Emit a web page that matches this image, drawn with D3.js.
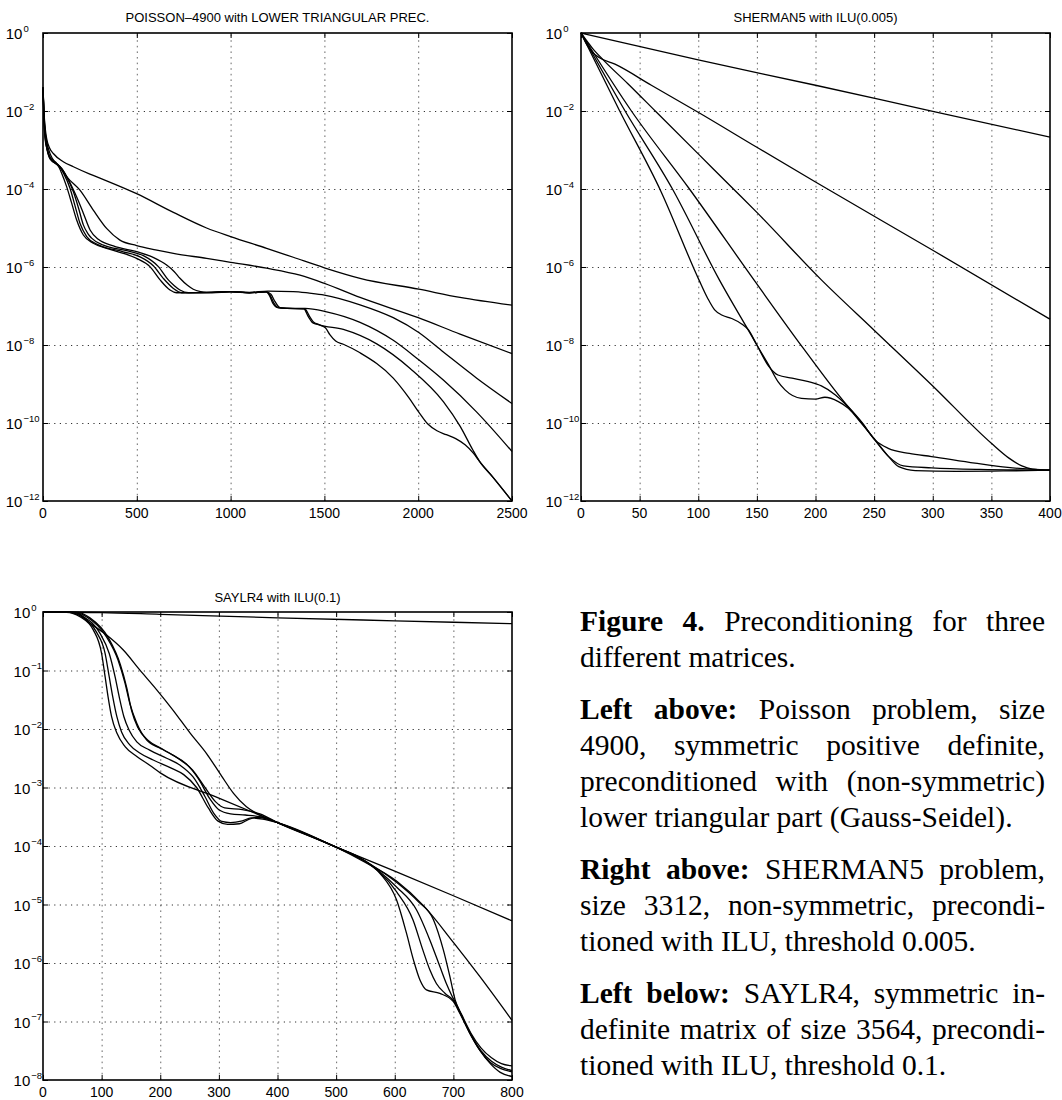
<!DOCTYPE html>
<html><head><meta charset="utf-8">
<script src="https://cdn.jsdelivr.net/npm/d3@7"></script>
<style>
body{margin:0;background:#fff;}
svg{display:block;}
</style></head><body>
<svg id="fig" width="1062" height="1100"></svg>
<script>
// ---------------- DATA (x = iteration, value = log10 of residual) ----------------
const poissonTitle = "POISSON\u20134900 with LOWER TRIANGULAR PREC.";
const poissonXTicks = [0, 500, 1000, 1500, 2000, 2500];
const poissonYExps = [0, -2, -4, -6, -8, -10, -12];
const poissonA = [[0,-1.4],[5,-2.0],[12,-2.45],[20,-2.72],[35,-2.95],[55,-3.09],[108,-3.30],[162,-3.43],[250,-3.62],[339,-3.79],[499,-4.12],[695,-4.6],[872,-5.0],[1000,-5.22],[1192,-5.52],[1334,-5.75],[1500,-6.02],[1690,-6.29],[2003,-6.57],[2223,-6.78],[2500,-6.98]];
const poissonB = [[0,-1.4],[5,-2.05],[12,-2.55],[20,-2.8],[40,-3.12],[70,-3.35],[100,-3.5],[126,-3.68],[197,-4.03],[268,-4.54],[339,-5.01],[410,-5.31],[499,-5.45],[600,-5.56],[695,-5.65],[872,-5.78],[1000,-5.88],[1192,-6.03],[1370,-6.21],[1500,-6.42],[1690,-6.78],[2000,-7.3],[2223,-7.72],[2500,-8.22]];
const poissonC = [[0,-1.4],[5,-2.1],[12,-2.6],[20,-2.88],[40,-3.22],[100,-3.47],[140,-3.8],[179,-4.2],[215,-4.62],[251,-5.05],[295,-5.29],[375,-5.46],[517,-5.63],[590,-5.76],[659,-5.95],[700,-6.12],[730,-6.29],[770,-6.47],[801,-6.57],[840,-6.63],[872,-6.65],[1000,-6.63],[1100,-6.65],[1200,-6.62],[1334,-6.63],[1420,-6.67],[1500,-6.72],[1690,-6.97],[1867,-7.3],[2003,-7.68],[2134,-8.18],[2312,-8.85],[2500,-9.5]];
const poissonD = [[0,-1.4],[5,-2.15],[12,-2.65],[20,-2.92],[40,-3.24],[91,-3.43],[125,-3.68],[162,-4.07],[190,-4.5],[215,-4.92],[240,-5.15],[259,-5.26],[322,-5.44],[446,-5.58],[535,-5.71],[615,-5.99],[668,-6.33],[700,-6.48],[730,-6.59],[775,-6.66],[900,-6.66],[1000,-6.64],[1100,-6.66],[1190,-6.64],[1215,-6.7],[1237,-6.89],[1263,-7.04],[1330,-7.06],[1397,-7.06],[1512,-7.15],[1690,-7.42],[1867,-7.88],[2003,-8.38],[2134,-8.9],[2312,-9.72],[2500,-10.73]];
const poissonE = [[0,-1.4],[5,-2.2],[12,-2.7],[20,-2.95],[40,-3.24],[82,-3.38],[110,-3.6],[144,-3.98],[170,-4.42],[197,-4.88],[233,-5.22],[286,-5.41],[428,-5.61],[517,-5.74],[588,-5.97],[641,-6.29],[695,-6.55],[739,-6.66],[900,-6.65],[1000,-6.63],[1100,-6.66],[1190,-6.64],[1210,-6.72],[1230,-6.92],[1255,-7.04],[1300,-7.06],[1395,-7.07],[1420,-7.26],[1440,-7.4],[1468,-7.47],[1601,-7.6],[1779,-7.97],[1957,-8.6],[2134,-9.45],[2223,-10.08],[2290,-10.68],[2325,-10.97],[2400,-11.4],[2500,-12]];
const poissonF = [[0,-1.4],[5,-2.25],[12,-2.75],[20,-2.95],[40,-3.2],[73,-3.34],[100,-3.6],[126,-3.94],[152,-4.35],[179,-4.79],[215,-5.18],[268,-5.39],[339,-5.52],[428,-5.65],[499,-5.78],[570,-5.99],[624,-6.33],[677,-6.59],[712,-6.66],[900,-6.65],[1000,-6.63],[1100,-6.66],[1190,-6.64],[1208,-6.74],[1225,-6.93],[1250,-7.04],[1300,-7.06],[1390,-7.07],[1415,-7.28],[1435,-7.42],[1468,-7.48],[1505,-7.56],[1530,-7.74],[1560,-7.9],[1601,-7.98],[1690,-8.2],[1867,-8.85],[1950,-9.35],[2003,-9.72],[2050,-10.02],[2100,-10.2],[2150,-10.3],[2200,-10.4],[2250,-10.56],[2295,-10.78],[2325,-10.97],[2400,-11.4],[2500,-12]];

const shermanTitle = "SHERMAN5 with ILU(0.005)";
const shermanXTicks = [0, 50, 100, 150, 200, 250, 300, 350, 400];
const shermanYExps = [0, -2, -4, -6, -8, -10, -12];
const shermanR1 = [[0,0],[100,-0.69],[200,-1.34],[300,-2.01],[400,-2.67]];
const shermanR2 = [[0,0],[5,-0.3],[10,-0.5],[15,-0.62],[29,-0.8],[60,-1.34],[101,-2.05],[150,-2.93],[200,-3.82],[300,-5.57],[400,-7.34]];
const shermanR3 = [[0,0],[10,-0.4],[20,-0.72],[40,-1.3],[64,-2.02],[100,-3.1],[130,-4.0],[150,-4.6],[205,-6.33],[250,-7.62],[300,-9.05],[350,-10.52],[365,-10.9],[376,-11.1],[385,-11.18],[400,-11.21]];
const shermanR4 = [[0,0],[43,-2.0],[92.5,-4.0],[147.5,-6.33],[190,-8.1],[225,-9.48],[240,-10.0],[251,-10.44],[262,-10.65],[280,-10.78],[299,-10.86],[336,-11.03],[364,-11.14],[400,-11.21]];
const shermanR5 = [[0,0],[37.6,-2.0],[78,-4.0],[118,-6.33],[150,-8.0],[160,-8.54],[168,-8.77],[180,-8.85],[194,-8.94],[205,-9.05],[217,-9.28],[225,-9.5],[240,-10.02],[251,-10.45],[262,-10.85],[275,-11.1],[299,-11.15],[340,-11.19],[400,-11.21]];
const shermanR6 = [[0,0],[33,-2.0],[68,-4.05],[100.6,-6.33],[108,-6.8],[114,-7.1],[120,-7.23],[128.5,-7.32],[137,-7.46],[143,-7.62],[150,-8.0],[160,-8.51],[168,-8.94],[174,-9.15],[188,-9.37],[200,-9.39],[208,-9.34],[219.5,-9.45],[228,-9.62],[239,-10.0],[251,-10.44],[262,-10.85],[271,-11.12],[285,-11.22],[320,-11.24],[360,-11.23],[400,-11.21]];

const saylrTitle = "SAYLR4 with ILU(0.1)";
const saylrXTicks = [0, 100, 200, 300, 400, 500, 600, 700, 800];
const saylrYExps = [0, -1, -2, -3, -4, -5, -6, -7, -8];
const saylrS1 = [[0,0],[100,-0.01],[200,-0.04],[400,-0.1],[600,-0.15],[800,-0.2]];
const saylrS2 = [[0,0],[40,-0.005],[63,-0.08],[86,-0.31],[100,-0.71],[106,-1.11],[111,-1.45],[117,-1.79],[126,-2.07],[140,-2.30],[160,-2.47],[182,-2.62],[200,-2.75],[300,-3.18],[400,-3.6],[500,-4.02],[600,-4.43],[700,-4.85],[800,-5.28]];
const saylrSb = [[0,0],[40,-0.002],[57,-0.01],[80,-0.19],[108,-0.39],[137,-0.65],[165,-0.99],[194,-1.33],[222,-1.68],[251,-2.07],[279,-2.42],[305,-2.81],[325,-3.10],[347,-3.33],[370,-3.47],[400,-3.6],[500,-4.02],[546,-4.26],[603,-4.6],[649,-5.02],[701,-5.66],[745,-6.23],[800,-6.98]];
const saylrHa = [[0,0],[45,-0.005],[66,-0.08],[91,-0.34],[106,-0.71],[113,-1.11],[119,-1.45],[126,-1.79],[134,-2.05],[148,-2.27],[165,-2.41],[188,-2.53],[217,-2.66],[240,-2.78],[262,-3.0],[282,-3.35],[298,-3.57],[315,-3.63],[335,-3.62],[350,-3.55],[365,-3.51],[380,-3.53],[400,-3.6],[500,-4.02],[540,-4.2],[575,-4.47],[603,-4.92],[620,-5.49],[632,-5.95],[643,-6.29],[654,-6.46],[677,-6.52],[700,-6.66],[711,-6.86],[728,-7.2],[745,-7.49],[763,-7.72],[780,-7.87],[800,-7.94]];
const saylrHb = [[0,0],[50,-0.005],[69,-0.08],[97,-0.36],[113,-0.71],[123,-1.11],[130,-1.45],[138,-1.79],[147,-2.02],[160,-2.22],[182,-2.36],[211,-2.5],[234,-2.62],[256,-2.82],[276,-3.15],[292,-3.45],[305,-3.58],[320,-3.6],[340,-3.57],[355,-3.52],[375,-3.54],[400,-3.6],[500,-4.02],[545,-4.23],[603,-4.78],[631,-5.26],[648,-5.78],[660,-6.12],[671,-6.35],[686,-6.52],[700,-6.64],[711,-6.84],[728,-7.2],[745,-7.49],[763,-7.7],[780,-7.8],[800,-7.86]];
const saylrHc = [[0,0],[55,-0.005],[74,-0.08],[108,-0.42],[128,-0.82],[140,-1.22],[148,-1.56],[160,-1.9],[177,-2.19],[200,-2.33],[222,-2.45],[245,-2.6],[265,-2.85],[285,-3.2],[300,-3.38],[320,-3.45],[345,-3.47],[370,-3.5],[400,-3.6],[500,-4.02],[550,-4.26],[603,-4.70],[637,-5.09],[660,-5.61],[677,-6.06],[688,-6.35],[697,-6.55],[705,-6.7],[715,-6.92],[730,-7.22],[747,-7.5],[765,-7.68],[782,-7.78],[800,-7.84]];
const saylrHd = [[0,0],[60,-0.005],[80,-0.1],[112,-0.45],[132,-0.9],[143,-1.3],[151,-1.68],[162,-1.98],[180,-2.2],[205,-2.35],[230,-2.5],[255,-2.7],[275,-2.98],[295,-3.25],[310,-3.35],[340,-3.38],[370,-3.45],[400,-3.6],[500,-4.02],[560,-4.32],[603,-4.62],[640,-4.95],[666,-5.26],[683,-5.78],[694,-6.23],[703,-6.63],[715,-6.9],[730,-7.2],[747,-7.45],[765,-7.62],[782,-7.72],[800,-7.76]];

const captionParas = [
  [ [["b","Figure 4."],["r"," Preconditioning for three"]],
    [["r","different matrices."]] ],
  [ [["b","Left above:"],["r"," Poisson problem, size"]],
    [["r","4900, symmetric positive definite,"]],
    [["r","preconditioned with (non-symmetric)"]],
    [["r","lower triangular part (Gauss-Seidel)."]] ],
  [ [["b","Right above:"],["r"," SHERMAN5 problem,"]],
    [["r","size 3312, non-symmetric, precondi-"]],
    [["r","tioned with ILU, threshold 0.005."]] ],
  [ [["b","Left below:"],["r"," SAYLR4, symmetric in-"]],
    [["r","definite matrix of size 3564, precondi-"]],
    [["r","tioned with ILU, threshold 0.1."]] ]
];

// ---------------- LAYOUT ----------------
const SANS = '"Liberation Sans", Arial, Helvetica, sans-serif';
const SERIF = '"Liberation Serif", "Times New Roman", serif';
const svg = d3.select('#fig');

const panels = [
  {title: poissonTitle, xMax: 2500, xTicks: poissonXTicks, yMinExp: -12, yExps: poissonYExps,
   series: [poissonA, poissonB, poissonC, poissonD, poissonE, poissonF],
   left: 43, right: 512, top: 33, bottom: 501, labelX: 5.7, titleY: 22},
  {title: shermanTitle, xMax: 400, xTicks: shermanXTicks, yMinExp: -12, yExps: shermanYExps,
   series: [shermanR1, shermanR2, shermanR3, shermanR4, shermanR5, shermanR6],
   left: 581, right: 1050, top: 33, bottom: 501, labelX: 545.5, titleY: 22},
  {title: saylrTitle, xMax: 800, xTicks: saylrXTicks, yMinExp: -8, yExps: saylrYExps,
   series: [saylrS1, saylrS2, saylrSb, saylrHa, saylrHb, saylrHc, saylrHd],
   left: 43, right: 512, top: 612, bottom: 1080, labelX: 13.6, titleY: 601.5}
];

function styleAxis(sel, stroke, dash) {
  sel.select('.domain').remove();
  sel.selectAll('text').remove();
  sel.selectAll('line').attr('stroke', stroke).attr('stroke-width', 1);
  if (dash) sel.selectAll('line').attr('stroke-dasharray', dash);
}

function drawPanel(p) {
  const W = p.right - p.left, H = p.bottom - p.top;
  const x = d3.scaleLinear().domain([0, p.xMax]).range([p.left, p.right]);
  const y = d3.scaleLog().domain([Math.pow(10, p.yMinExp), 1]).range([p.bottom, p.top]);
  const g = svg.append('g');

  // grid
  const innerX = p.xTicks.filter(v => v > 0 && v < p.xMax);
  const innerY = p.yExps.filter(e => e < 0 && e > p.yMinExp).map(e => Math.pow(10, e));
  g.append('g').attr('transform', `translate(0,${p.bottom})`)
    .call(d3.axisBottom(x).tickValues(innerX).tickSize(-H).tickSizeOuter(0).tickFormat(''))
    .call(s => styleAxis(s, '#6a6a6a', '1.6,4'));
  g.append('g').attr('transform', `translate(${p.left},0)`)
    .call(d3.axisLeft(y).tickValues(innerY).tickSize(-W).tickSizeOuter(0).tickFormat(''))
    .call(s => styleAxis(s, '#333', '1.2,4.4'));

  // inward tick marks on all four sides
  const allY = p.yExps.map(e => Math.pow(10, e));
  g.append('g').attr('transform', `translate(0,${p.bottom})`)
    .call(d3.axisBottom(x).tickValues(p.xTicks).tickSize(-5).tickSizeOuter(0).tickFormat(''))
    .call(s => styleAxis(s, '#000'));
  g.append('g').attr('transform', `translate(0,${p.top})`)
    .call(d3.axisTop(x).tickValues(p.xTicks).tickSize(-5).tickSizeOuter(0).tickFormat(''))
    .call(s => styleAxis(s, '#000'));
  g.append('g').attr('transform', `translate(${p.left},0)`)
    .call(d3.axisLeft(y).tickValues(allY).tickSize(-5).tickSizeOuter(0).tickFormat(''))
    .call(s => styleAxis(s, '#000'));
  g.append('g').attr('transform', `translate(${p.right},0)`)
    .call(d3.axisRight(y).tickValues(allY).tickSize(-5).tickSizeOuter(0).tickFormat(''))
    .call(s => styleAxis(s, '#000'));

  // series
  const line = d3.line()
    .x(d => x(d[0]))
    .y(d => y(Math.pow(10, d[1])))
    .curve(d3.curveMonotoneX);
  g.append('g').selectAll('path').data(p.series).join('path')
    .attr('d', line)
    .attr('fill', 'none')
    .attr('stroke', '#000')
    .attr('stroke-width', 1.3)
    .attr('stroke-linejoin', 'round');

  // frame
  g.append('rect').attr('x', p.left).attr('y', p.top).attr('width', W).attr('height', H)
    .attr('fill', 'none').attr('stroke', '#000').attr('stroke-width', 1.6);

  // x labels
  g.append('g').selectAll('text').data(p.xTicks).join('text')
    .attr('x', d => x(d)).attr('y', p.bottom + 17)
    .attr('text-anchor', 'middle')
    .attr('font-family', SANS).attr('font-size', 14).attr('fill', '#000')
    .text(d => d);

  // y labels: 10^e
  const yl = g.append('g').selectAll('text').data(p.yExps).join('text')
    .attr('x', p.labelX).attr('y', d => y(Math.pow(10, d)) + 6)
    .attr('font-family', SANS).attr('font-size', 15).attr('fill', '#000');
  yl.append('tspan').text('10');
  yl.append('tspan').attr('dy', -7.5).attr('dx', 1).attr('font-size', 9.5)
    .text(d => d === 0 ? '0' : '\u2212' + (-d));

  // title
  g.append('text').attr('x', (p.left + p.right) / 2).attr('y', p.titleY)
    .attr('text-anchor', 'middle').attr('font-family', SANS).attr('font-size', 13)
    .attr('fill', '#000').text(p.title);
}

panels.forEach(drawPanel);

// ---------------- CAPTION ----------------
const capLeft = 580, capRight = 1045, capTop = 631, lineStep = 36, paraExtra = 16;
let gi = 0;
const capG = svg.append('g');
captionParas.forEach((para, pi) => {
  para.forEach((segs, li) => {
    const t = capG.append('text')
      .attr('x', capLeft).attr('y', capTop + lineStep * gi + paraExtra * pi)
      .attr('font-family', SERIF).attr('font-size', 29.5).attr('fill', '#000')
      .style('white-space', 'pre');
    segs.forEach(s => {
      t.append('tspan').attr('font-weight', s[0] === 'b' ? 'bold' : 'normal').text(s[1]);
    });
    const isLast = li === para.length - 1;
    if (!isLast) {
      const full = segs.map(s => s[1]).join('');
      const nSp = (full.match(/ /g) || []).length;
      const w = t.node().getComputedTextLength();
      if (nSp > 0) t.style('word-spacing', ((capRight - capLeft - w) / nSp) + 'px');
    }
    gi++;
  });
});
</script>
</body></html>
